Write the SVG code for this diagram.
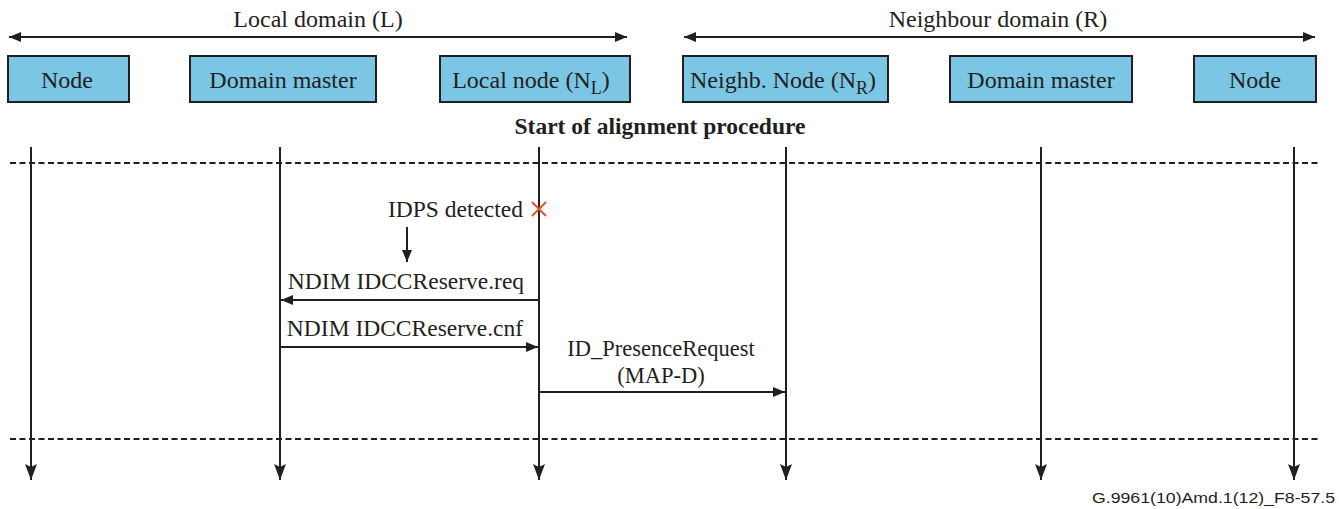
<svg xmlns="http://www.w3.org/2000/svg" width="1339" height="509" viewBox="0 0 1339 509">
<defs>
<style>
.t{font-family:"Liberation Serif","DejaVu Serif",serif;font-size:24px;fill:#231f20}
.m{font-size:23.5px}
.s{font-size:22.5px}
.b{font-weight:bold;font-size:23.5px}
.box{fill:#7ac6e4;stroke:#231f20;stroke-width:2}
.ln{stroke:#231f20;stroke-width:2;fill:none}
.dash{stroke:#231f20;stroke-width:1.8;stroke-dasharray:6 3.5;fill:none}
.foot{font-family:"Liberation Sans",Arial,sans-serif;font-size:14px;fill:#231f20}
</style>
<marker id="ah" viewBox="0 0 12 10" refX="12" refY="5" markerWidth="12" markerHeight="10" markerUnits="userSpaceOnUse" orient="auto-start-reverse">
<path d="M0,0 L12,5 L0,10 Z" fill="#231f20"/>
</marker>
<marker id="ahl" viewBox="0 0 16 12" refX="16" refY="6" markerWidth="16" markerHeight="12" markerUnits="userSpaceOnUse" orient="auto">
<path d="M0,0 L16,6 L0,12 L3,6 Z" fill="#231f20"/>
</marker>
</defs>
<rect width="1339" height="509" fill="#fff"/>

<g id="domain-local">
<line class="ln" x1="9" y1="37" x2="627" y2="37" marker-start="url(#ah)" marker-end="url(#ah)"/>
<text class="t" x="318" y="27" text-anchor="middle">Local domain (L)</text>
</g>
<g id="domain-neighbour">
<line class="ln" x1="684" y1="37" x2="1315" y2="37" marker-start="url(#ah)" marker-end="url(#ah)"/>
<text class="t" x="998" y="27" text-anchor="middle">Neighbour domain (R)</text>
</g>

<g id="node-L1">
<rect class="box" x="8" y="56" width="121" height="46"/>
<text class="t" x="67" y="88" text-anchor="middle">Node</text>
</g>
<g id="dm-L">
<rect class="box" x="190" y="56" width="186" height="46"/>
<text class="t" x="283" y="88" text-anchor="middle">Domain master</text>
</g>
<g id="local-node">
<rect class="box" x="440" y="56" width="190" height="46"/>
<text class="t" x="531" y="88" text-anchor="middle">Local node (N<tspan font-size="18" dy="6">L</tspan><tspan dy="-6">)</tspan></text>
</g>
<g id="neighb-node">
<rect class="box" x="683" y="56" width="205" height="46"/>
<text class="t" x="783" y="88" text-anchor="middle">Neighb. Node (N<tspan font-size="18" dy="6">R</tspan><tspan dy="-6">)</tspan></text>
</g>
<g id="dm-R">
<rect class="box" x="950" y="56" width="182" height="46"/>
<text class="t" x="1041" y="88" text-anchor="middle">Domain master</text>
</g>
<g id="node-R1">
<rect class="box" x="1194" y="56" width="122" height="46"/>
<text class="t" x="1255" y="88" text-anchor="middle">Node</text>
</g>

<g id="phase">
<text class="t b" x="660" y="134" text-anchor="middle">Start of alignment procedure</text>
<line class="dash" x1="10" y1="163" x2="1318" y2="163"/>
<line class="dash" x1="10" y1="439" x2="1318" y2="439"/>
</g>

<g id="connectors">
<g id="lifelines">
<line class="ln" x1="31" y1="147" x2="31" y2="480" marker-end="url(#ahl)"/>
<line class="ln" x1="280" y1="147" x2="280" y2="480" marker-end="url(#ahl)"/>
<line class="ln" x1="539" y1="147" x2="539" y2="480" marker-end="url(#ahl)"/>
<line class="ln" x1="786" y1="147" x2="786" y2="480" marker-end="url(#ahl)"/>
<line class="ln" x1="1041" y1="147" x2="1041" y2="480" marker-end="url(#ahl)"/>
<line class="ln" x1="1294" y1="147" x2="1294" y2="480" marker-end="url(#ahl)"/>
</g>
<line class="ln" x1="407" y1="227" x2="407" y2="262" marker-end="url(#ah)"/>
<line class="ln" x1="539" y1="300" x2="281" y2="300" marker-end="url(#ah)"/>
<line class="ln" x1="281" y1="347" x2="538" y2="347" marker-end="url(#ah)"/>
<line class="ln" x1="539" y1="392" x2="785" y2="392" marker-end="url(#ah)"/>
</g>

<g id="event-idps">
<text class="t m" x="523" y="217" text-anchor="end">IDPS detected</text>
<path d="M532,202 L546,216 M546,202 L532,216" stroke="#e8532a" stroke-width="2" fill="none"/>
</g>
<g id="labels">
<text class="t m" x="406" y="289" text-anchor="middle">NDIM IDCCReserve.req</text>
<text class="t m" x="405" y="336" text-anchor="middle">NDIM IDCCReserve.cnf</text>
<text class="t s" x="661" y="356" text-anchor="middle">ID_PresenceRequest</text>
<text class="t s" x="661" y="383" text-anchor="middle">(MAP-D)</text>
</g>

<text class="foot" x="1335" y="503" text-anchor="end" textLength="243" lengthAdjust="spacingAndGlyphs">G.9961(10)Amd.1(12)_F8-57.5</text>
</svg>
